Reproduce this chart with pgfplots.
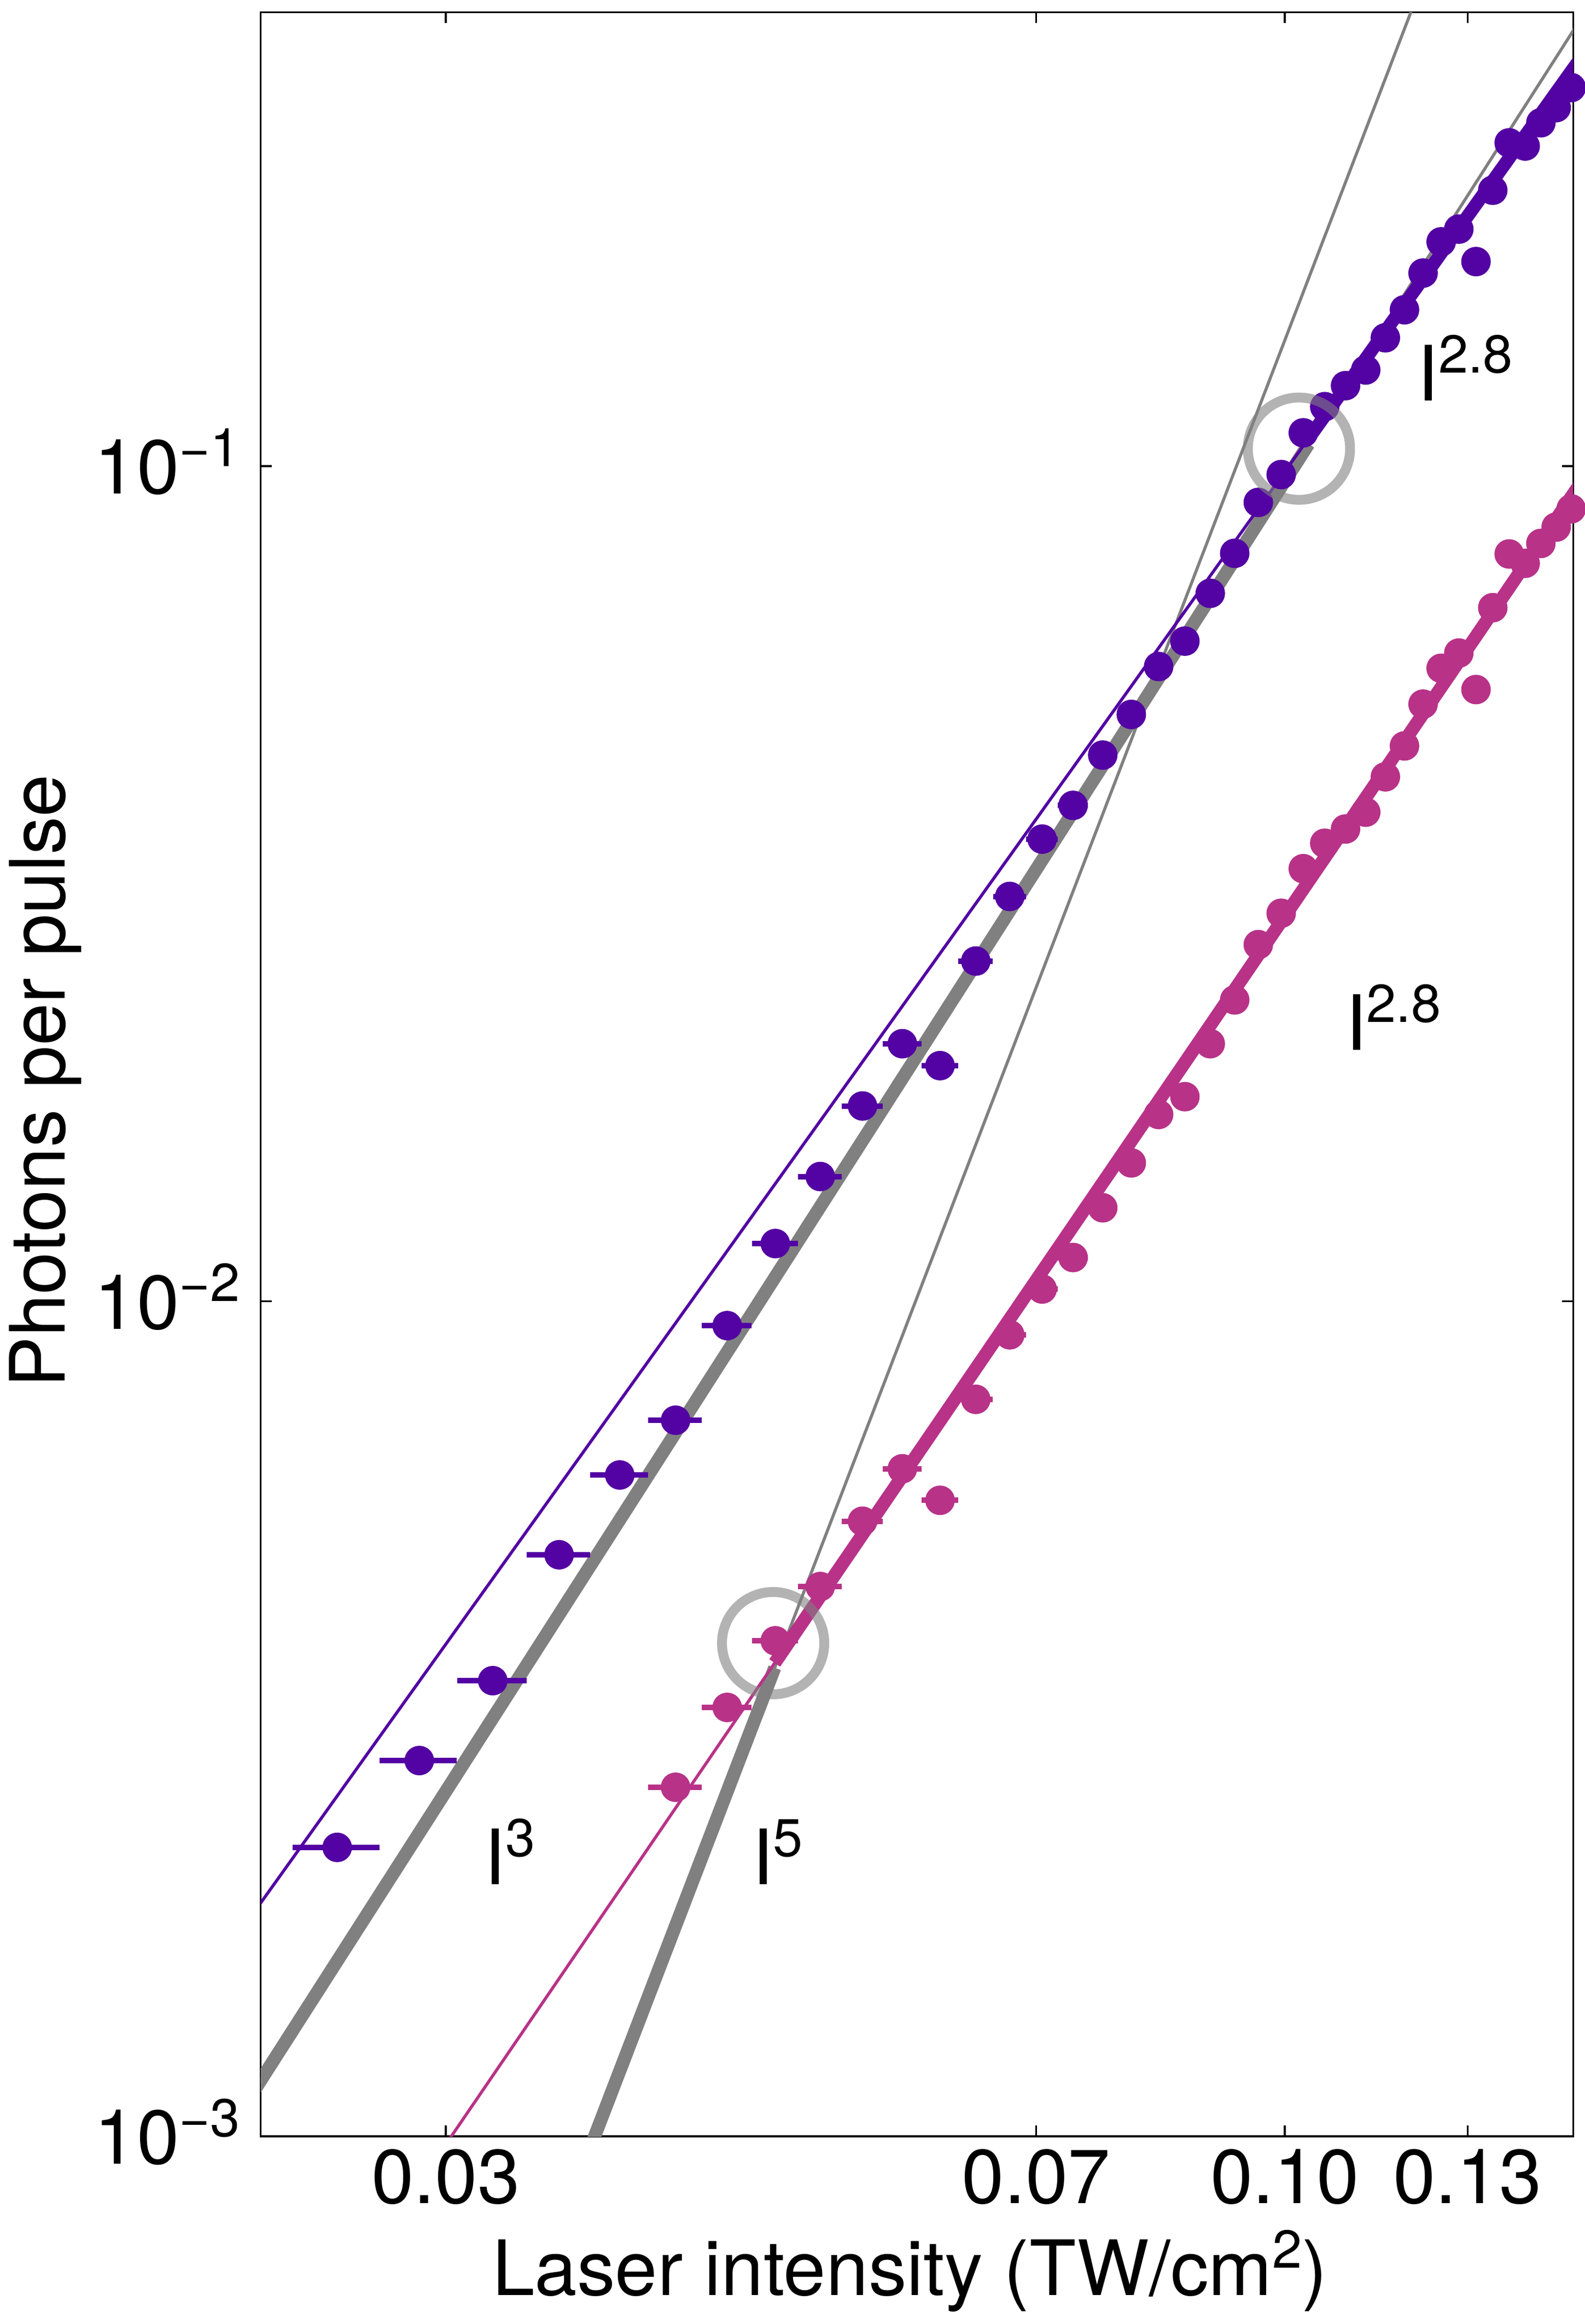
\documentclass[border=0pt]{standalone}
\usepackage{fontspec}
\setmainfont{TeX Gyre Heros}
\usepackage{pgfplots}
\usepackage{pgfplotstable}
\pgfplotsset{compat=1.18}
\usetikzlibrary{calc}
\definecolor{cpur}{RGB}{83,2,163}
\definecolor{cmag}{RGB}{184,50,136}
\definecolor{cgray}{RGB}{128,128,128}
\newcommand{\fs}{\fontsize{27.9pt}{33pt}\selectfont}
\newcommand{\sps}[1]{\raisebox{0.36em}{\fontsize{19.5pt}{20pt}\selectfont #1}}

\pgfplotstableread{
x y
0.02567 0.0022185
0.02888 0.0028187
0.03209 0.0035133
0.03530 0.0049709
0.03851 0.0061947
0.04172 0.0072041
0.04493 0.0093507
0.04814 0.011725
0.05135 0.014105
0.05456 0.017134
0.05777 0.020343
0.06098 0.019151
0.06419 0.025546
0.06740 0.030532
0.07061 0.035759
0.07382 0.039250
0.07703 0.045082
0.08024 0.050426
0.08345 0.057556
0.08666 0.061723
0.08987 0.070427
0.09308 0.078651
0.09629 0.090483
0.09950 0.097704
0.10271 0.10962
0.10592 0.11782
0.10913 0.12485
0.11234 0.13036
0.11555 0.14246
0.11876 0.15391
0.12197 0.17028
0.12518 0.18561
0.12839 0.19223
0.13160 0.17577
0.13481 0.21398
0.13802 0.24384
0.14123 0.24171
0.14444 0.25771
0.14765 0.26869
0.15086 0.28400
}\purdata

\pgfplotstableread{
x y
0.04172 0.0026186
0.04493 0.0032634
0.04814 0.0039226
0.05135 0.0045540
0.05456 0.0054525
0.05777 0.0063012
0.06098 0.0057766
0.06419 0.0076312
0.06740 0.0091168
0.07061 0.010344
0.07382 0.011282
0.07703 0.012940
0.08024 0.014645
0.08345 0.016738
0.08666 0.017579
0.08987 0.020343
0.09308 0.022954
0.09629 0.026731
0.09950 0.029147
0.10271 0.032961
0.10592 0.035356
0.10913 0.036771
0.11234 0.038521
0.11555 0.042460
0.11876 0.046232
0.12197 0.051884
0.12518 0.057270
0.12839 0.059724
0.13160 0.054010
0.13481 0.067690
0.13802 0.078497
0.14123 0.076507
0.14444 0.080802
0.14765 0.084528
0.15086 0.088888
}\magdata

\begin{document}
\begin{tikzpicture}[font=\fs]
\begin{axis}[name=ax, scale only axis, width=479.94pt, height=776.54pt,
  xmode=log, ymode=log,
  xmin=0.023, xmax=0.1513, ymin=0.001, ymax=0.3496,
  xtick={0.03,0.07,0.1,0.13}, xticklabels={0.03,0.07,0.10,0.13},
  ytick={0.001,0.01,0.1}, yticklabels={10\sps{−3},10\sps{−2},10\sps{−1}},
  xminorticks=false, yminorticks=false,
  tick align=inside, major tick length=4pt,
  tick style={black, line width=0.65pt},
  axis line style={line width=0.65pt},
  xticklabel style={font=\fs, anchor=base, inner sep=0pt, yshift=-24.4pt},
  yticklabel style={font=\fs, anchor=base east, inner sep=0pt, xshift=-7.3pt, yshift=-10.1pt},
  xlabel={Laser intensity (TW/cm\sps{2})},
  ylabel={Photons per pulse},
  xlabel style={font=\fs, at={(axis description cs:0.4946,-0.074845)}, anchor=base, inner sep=0pt},
  ylabel style={font=\fs, at={(axis description cs:-0.14906,0.4968)}, anchor=base, inner sep=0pt},
  clip=true,
]
% fitted power laws
\addplot[cgray, line width=1.1pt] coordinates {(0.022,0.0010210) (0.155,0.35708)};
\addplot[cgray, line width=4.8pt] coordinates {(0.022,0.0010210) (0.1035,0.10631)};
\addplot[cgray, line width=1.1pt] coordinates {(0.0481,0.0036405) (0.121,0.3667)};
\addplot[cgray, line width=4.8pt] coordinates {(0.036372,0.0009) (0.0481,0.0036405)};
\addplot[cpur, line width=1.1pt] coordinates {(0.022,0.0016893) (0.155,0.31927)};
\addplot[cpur, line width=4.8pt] coordinates {(0.1035,0.10795) (0.155,0.31927)};
\addplot[cmag, line width=1.1pt] coordinates {(0.029126,0.0009) (0.155,0.099093)};
\addplot[cmag, line width=4.8pt] coordinates {(0.0481,0.0036893) (0.155,0.099093)};
% data
\addplot[only marks, mark=*, mark size=5.2pt, color=cpur, mark options={draw=none, fill=cpur},
  error bars/.cd, x dir=both, x fixed=0.0016, error mark=none,
  error bar style={line width=2pt, cpur}] table {\purdata};
\addplot[only marks, mark=*, mark size=5.2pt, color=cmag, mark options={draw=none, fill=cmag},
  error bars/.cd, x dir=both, x fixed=0.0016, error mark=none,
  error bar style={line width=2pt, cmag}] table {\magdata};
% highlight circles
\addplot[only marks, mark=o, mark size=18.7pt,
  mark options={draw=cgray, line width=3.6pt, draw opacity=0.6}]
  coordinates {(0.10207,0.10493) (0.04799,0.0038967)};
\node[anchor=base west, inner sep=0pt] at (axis cs:0.031679,0.0020045) {I\sps{3}};
\node[anchor=base west, inner sep=0pt] at (axis cs:0.046529,0.0020045) {I\sps{5}};
\node[anchor=base west, inner sep=0pt] at (axis cs:0.12088,0.11984) {I\sps{2.8}};
\node[anchor=base west, inner sep=0pt] at (axis cs:0.10903,0.02) {I\sps{2.8}};
\end{axis}
\pgfresetboundingbox
\path ($(ax.south west)+(-95.34pt,-68.6pt)$) rectangle ($(ax.north east)+(4.32pt,4.46pt)$);
\end{tikzpicture}
\end{document}
